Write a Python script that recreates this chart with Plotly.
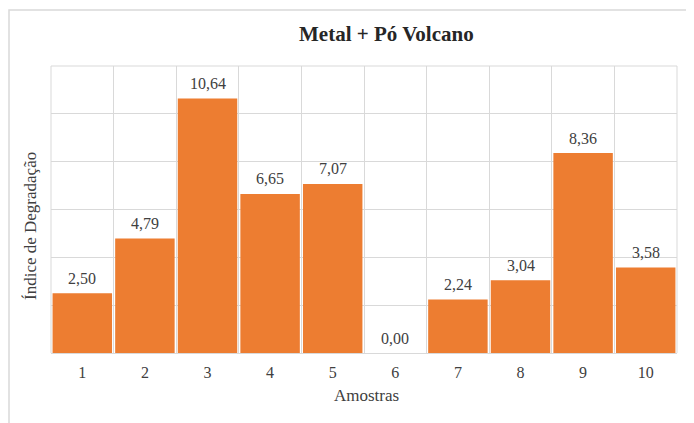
import plotly.graph_objects as go

categories = ["1", "2", "3", "4", "5", "6", "7", "8", "9", "10"]
values = [2.50, 4.79, 10.64, 6.65, 7.07, 0.00, 2.24, 3.04, 8.36, 3.58]

title_text = "<b>Metal + Pó Volcano</b>"
x_title = "Amostras"
y_title = "Índice de Degradação"

OFF = 8  # page body margin offset
W, H = 694 - OFF, 423 - OFF
# plot area in window pixels: x 51..677, y 66..353
L = 51 - OFF
T = 66 - OFF
R = W - (677 - OFF)
B = H - (353 - OFF)
pw, ph = W - L - R, H - T - B

def px_x(p):
    return (p - OFF - L) / pw

def px_y(p):
    return (H - B - (p - OFF)) / ph

grid = "#d9d9d9"
txt = "#404040"
serif = "Liberation Serif"

fig = go.Figure(go.Bar(
    x=categories,
    y=values,
    marker=dict(color="#ED7D31", line=dict(width=0)),
    hoverinfo="x+y",
))

# data labels placed at category index / value through the axes
label_annotations = [
    dict(x=i, y=v, xref="x", yref="y", text=f"{v:.2f}".replace(".", ","),
         showarrow=False, xanchor="center", yanchor="middle", yshift=15,
         font=dict(family=serif, size=16, color=txt))
    for i, v in enumerate(values)
]

edge = dict(color=grid, width=1)
fig.update_layout(
    width=W, height=H,
    margin=dict(l=L, r=R, t=T, b=B, autoexpand=False),
    paper_bgcolor="white",
    plot_bgcolor="white",
    separators=",.",
    bargap=0.05,
    showlegend=False,
    font=dict(family=serif, color=txt),
    xaxis=dict(
        type="category",
        range=[-0.5, len(categories) - 0.5],
        tickson="boundaries",
        automargin=False,
        showgrid=True, gridcolor=grid, gridwidth=1,
        showline=True, linecolor=grid, linewidth=1,
        ticks="", ticklabelstandoff=5,
        tickfont=dict(family=serif, size=16, color=txt),
    ),
    yaxis=dict(
        range=[0, 12], dtick=2,
        automargin=False,
        showgrid=True, gridcolor=grid, gridwidth=1,
        showticklabels=False, zeroline=False, showline=False,
    ),
    annotations=label_annotations + [
        dict(text=title_text, xref="paper", yref="paper", x=px_x(386), y=px_y(34),
             xanchor="center", yanchor="middle", showarrow=False,
             font=dict(family=serif, size=21, color="#262626")),
        dict(text=x_title, xref="paper", yref="paper", x=px_x(366), y=px_y(396),
             xanchor="center", yanchor="middle", showarrow=False,
             font=dict(family=serif, size=17, color=txt)),
        dict(text=y_title, xref="paper", yref="paper", x=px_x(30), y=px_y(226),
             xanchor="center", yanchor="middle", showarrow=False, textangle=-90,
             font=dict(family=serif, size=17, color=txt)),
    ],
    shapes=[
        dict(type="line", xref="paper", yref="paper", x0=0, x1=1, y0=1, y1=1, line=edge, layer="below"),
        dict(type="line", xref="paper", yref="paper", x0=0, x1=0, y0=0, y1=1, line=edge, layer="below"),
        dict(type="line", xref="paper", yref="paper", x0=1, x1=1, y0=0, y1=1, line=edge, layer="below"),
        dict(type="rect", xref="paper", yref="paper",
             x0=px_x(9), x1=px_x(720), y0=px_y(440), y1=px_y(10),
             line=dict(color=grid, width=1.5), fillcolor="rgba(0,0,0,0)", layer="below"),
    ],
)

fig.write_html("out.html")
